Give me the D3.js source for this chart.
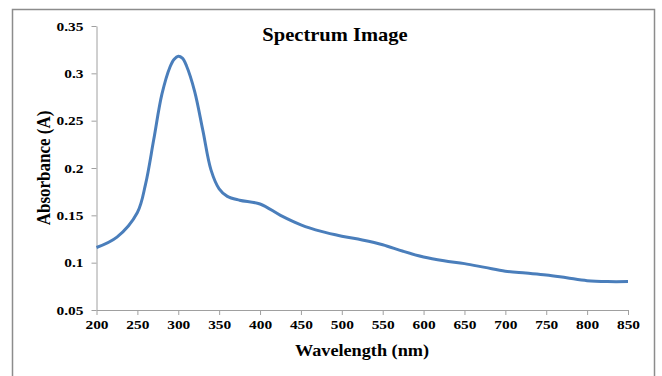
<!DOCTYPE html>
<html><head><meta charset="utf-8">
<script src="https://cdn.jsdelivr.net/npm/d3@7"></script>
<style>html,body{margin:0;padding:0;background:#fff;}svg{display:block;}</style>
</head><body>
<script>
const wavelengths = [200,225,250,260,270,280,290,295,300,305,310,320,330,340,350,360,375,400,425,450,475,500,525,550,575,600,625,650,675,700,725,750,775,800,825,850];
const absorbance = [0.116,0.127,0.153,0.183,0.230,0.278,0.307,0.315,0.318,0.316,0.308,0.281,0.240,0.198,0.178,0.170,0.166,0.162,0.150,0.140,0.133,0.128,0.124,0.119,0.112,0.106,0.102,0.099,0.095,0.091,0.089,0.087,0.084,0.081,0.080,0.080];
const xTicks = [200,250,300,350,400,450,500,550,600,650,700,750,800,850];
const yTicks = [0.05,0.1,0.15,0.2,0.25,0.3,0.35];
const yTickLabels = ["0.05","0.1","0.15","0.2","0.25","0.3","0.35"];

const W = 662, H = 376, SX = 1.14;
const svg = d3.select("body").append("svg").attr("width", W).attr("height", H);
svg.append("rect").attr("x", 12.5).attr("y", 9.5).attr("width", 642).attr("height", 380)
  .attr("fill", "#fff").attr("stroke", "#8c8c8c").attr("stroke-width", 1.5);

const x = d3.scaleLinear().domain([200, 850]).range([96.5, 628]);
const y = d3.scaleLinear().domain([0.05, 0.35]).range([310, 26]);
const font = "'Liberation Serif','Times New Roman',serif";

const gx = svg.append("g").attr("transform", "translate(0,310)")
  .call(d3.axisBottom(x).tickValues(xTicks).tickSize(5).tickSizeOuter(0).tickPadding(4));
const gy = svg.append("g").attr("transform", "translate(96.5,0)")
  .call(d3.axisLeft(y).tickValues(yTicks).tickFormat((d, i) => yTickLabels[i]).tickSize(5).tickSizeOuter(0).tickPadding(8));
[gx, gy].forEach(g => {
  g.select(".domain").attr("stroke", "#a0a0a0").attr("stroke-width", 1);
  g.selectAll(".tick line").attr("stroke", "#a0a0a0");
  g.selectAll("text").attr("fill", "#000").style("font-family", font).style("font-weight", "bold").style("font-size", "13.5px")
    .attr("transform", `scale(${SX},1)`);
});
gy.selectAll("text").attr("x", -13 / SX);

const line = d3.line().x((d, i) => x(wavelengths[i])).y(d => y(d)).curve(d3.curveCatmullRom.alpha(0.5));
svg.append("path").datum(absorbance).attr("d", line).attr("fill", "none")
  .attr("stroke", "#4a7ebb").attr("stroke-width", 3).attr("stroke-linejoin", "round");

svg.append("text").attr("transform", `translate(335,41) scale(${SX},1)`).attr("text-anchor", "middle")
  .style("font-family", font).style("font-weight", "bold").style("font-size", "18px").text("Spectrum Image");
svg.append("text").attr("transform", `translate(362,356) scale(${SX},1)`).attr("text-anchor", "middle")
  .style("font-family", font).style("font-weight", "bold").style("font-size", "16px").text("Wavelength (nm)");
svg.append("text").attr("transform", `translate(50,168) rotate(-90) scale(1,${SX})`).attr("text-anchor", "middle")
  .style("font-family", font).style("font-weight", "bold").style("font-size", "17px").text("Absorbance (A)");
</script>
</body></html>
